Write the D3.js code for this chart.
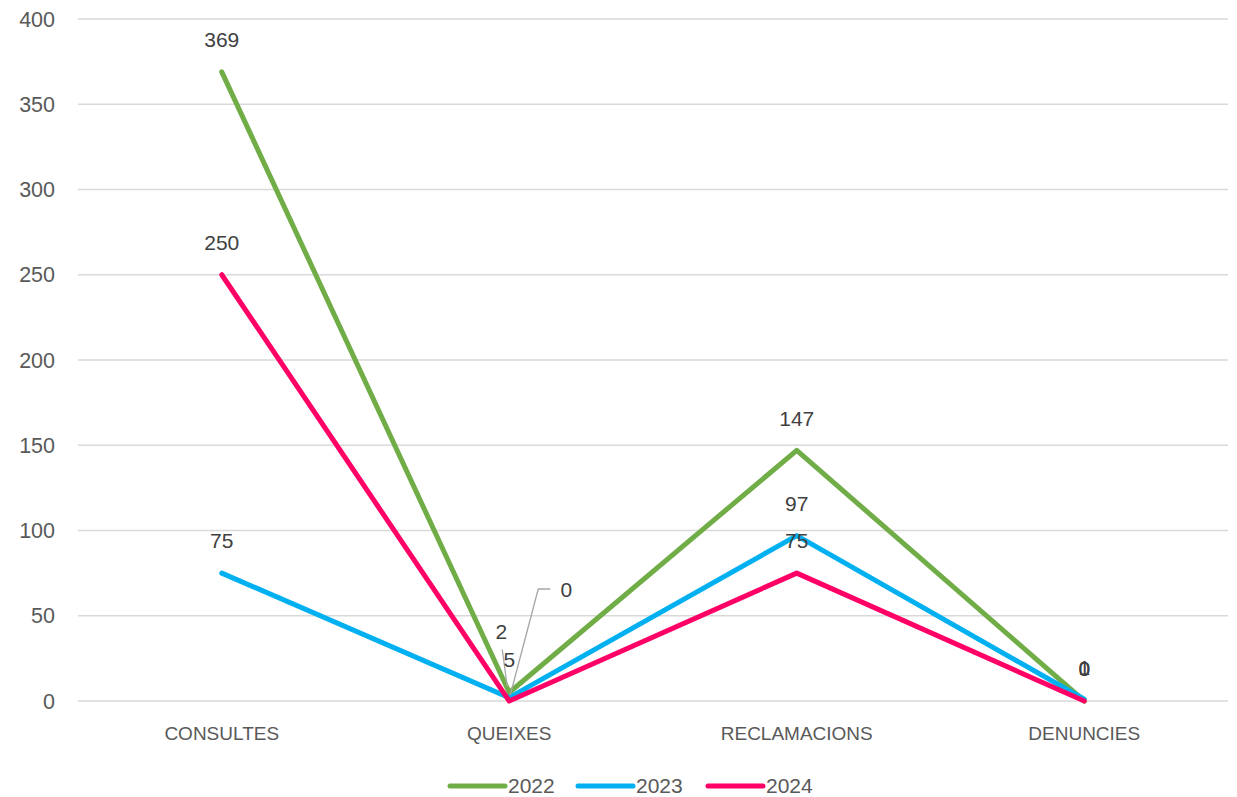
<!DOCTYPE html>
<html>
<head>
<meta charset="utf-8">
<script src="https://cdn.jsdelivr.net/npm/d3@7"></script>
<style>
  body { margin: 0; background: #fff; }
  svg { display: block; font-family: "Liberation Sans", Arial, sans-serif; }
</style>
</head>
<body>
<svg id="chart" width="1237" height="797"></svg>
<script>
// ---- data ----
const categories = ["CONSULTES", "QUEIXES", "RECLAMACIONS", "DENUNCIES"];
const years = ["2022", "2023", "2024"];
const values2022 = [369, 5, 147, 0];
const values2023 = [75, 2, 97, 1];
const values2024 = [250, 0, 75, 0];
const yTicks = [0, 50, 100, 150, 200, 250, 300, 350, 400];

const colors = { "2022": "#70AD47", "2023": "#00B0F0", "2024": "#FF0066" };
const series = [
  { year: "2022", values: values2022 },
  { year: "2023", values: values2023 },
  { year: "2024", values: values2024 }
];

// label tweaks for the crowded points (dx, dy from point; leader = elbow)
const labelTweaks = {
  "2022-1": { dx: 0, dy: -33, leader: true },
  "2023-1": { dx: -8, dy: -66 },
  "2024-1": { dx: 57, dy: -111, elbow: true }
};

const svg = d3.select('#chart');
const margin = { top: 19, right: 9, bottom: 96, left: 78 };
const W = 1237, H = 797;

const x = d3.scaleBand().domain(categories).range([margin.left, W - margin.right]);
const y = d3.scaleLinear().domain([0, 400]).range([H - margin.bottom, margin.top]);

// gridlines
svg.append('g')
  .selectAll('line')
  .data(yTicks)
  .join('line')
  .attr('x1', margin.left).attr('x2', W - margin.right)
  .attr('y1', d => y(d)).attr('y2', d => y(d))
  .attr('stroke', '#d9d9d9').attr('stroke-width', 1.3);

// y axis labels
svg.append('g')
  .selectAll('text')
  .data(yTicks)
  .join('text')
  .attr('x', 55).attr('y', d => y(d))
  .attr('dy', '0.35em')
  .attr('text-anchor', 'end')
  .attr('font-size', 21.5).attr('fill', '#595959')
  .text(d => d);

// x axis labels
svg.append('g')
  .selectAll('text')
  .data(categories)
  .join('text')
  .attr('x', d => x(d) + x.bandwidth() / 2).attr('y', 733)
  .attr('dy', '0.35em')
  .attr('text-anchor', 'middle')
  .attr('font-size', 19).attr('fill', '#595959')
  .text(d => d);

const cx = (i) => x(categories[i]) + x.bandwidth() / 2;

const line = d3.line()
  .x((d, i) => cx(i))
  .y(d => y(d));

svg.append('g')
  .selectAll('path')
  .data(series)
  .join('path')
  .attr('d', d => line(d.values))
  .attr('fill', 'none')
  .attr('stroke', d => colors[d.year])
  .attr('stroke-width', 5)
  .attr('stroke-linejoin', 'round')
  .attr('stroke-linecap', 'round');

// data labels
const labelG = svg.append('g');
series.forEach(s => {
  s.values.forEach((v, i) => {
    const t = labelTweaks[s.year + '-' + i];
    const px = cx(i), py = y(v);
    const lx = px + (t ? t.dx : 0);
    const ly = py + (t ? t.dy : -32);
    if (t && t.leader) {
      labelG.append('line')
        .attr('x1', lx - 7).attr('y1', ly - 10)
        .attr('x2', px - 2).attr('y2', py - 6)
        .attr('stroke', '#a6a6a6').attr('stroke-width', 1.3);
    }
    if (t && t.elbow) {
      labelG.append('polyline')
        .attr('points', [[lx - 16, ly - 1], [lx - 28, ly - 1], [px + 1, py - 6]].map(p => p.join(',')).join(' '))
        .attr('fill', 'none')
        .attr('stroke', '#a6a6a6').attr('stroke-width', 1.3);
    }
    labelG.append('text')
      .attr('x', lx).attr('y', ly)
      .attr('dy', '0.35em')
      .attr('text-anchor', 'middle')
      .attr('font-size', 21).attr('fill', '#404040')
      .text(v);
  });
});

// legend
const legendX = [450, 578, 708];
const legend = svg.append('g')
  .selectAll('g')
  .data(years)
  .join('g')
  .attr('transform', (d, i) => `translate(${legendX[i]},786)`);
legend.append('line')
  .attr('x1', 0).attr('x2', 55)
  .attr('stroke', d => colors[d]).attr('stroke-width', 5)
  .attr('stroke-linecap', 'round');
legend.append('text')
  .attr('x', 58).attr('dy', '0.35em')
  .attr('font-size', 21).attr('fill', '#595959')
  .text(d => d);
</script>
</body>
</html>
